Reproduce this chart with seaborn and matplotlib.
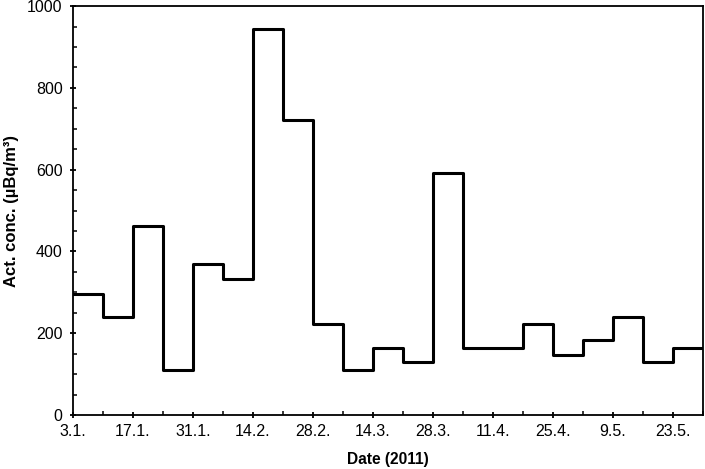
import matplotlib
matplotlib.use('Agg')
import matplotlib.pyplot as plt
import matplotlib.dates as mdates
from matplotlib.ticker import MultipleLocator, FixedLocator
import seaborn as sns
import pandas as pd

# weekly sampling periods (start dates) and activity concentration
week_start = ['2011-01-03', '2011-01-10', '2011-01-17', '2011-01-24', '2011-01-31',
              '2011-02-07', '2011-02-14', '2011-02-21', '2011-02-28', '2011-03-07',
              '2011-03-14', '2011-03-21', '2011-03-28', '2011-04-04', '2011-04-11',
              '2011-04-18', '2011-04-25', '2011-05-02', '2011-05-09', '2011-05-16',
              '2011-05-23']
act_conc = [296, 240, 462, 110, 370, 332, 944, 721, 222, 110,
            165, 129, 592, 165, 165, 222, 147, 184, 241, 129, 165]
period_end = '2011-05-30'

tick_dates = ['2011-01-03', '2011-01-17', '2011-01-31', '2011-02-14', '2011-02-28',
              '2011-03-14', '2011-03-28', '2011-04-11', '2011-04-25', '2011-05-09',
              '2011-05-23']
tick_labels = ['3.1.', '17.1.', '31.1.', '14.2.', '28.2.', '14.3.', '28.3.',
               '11.4.', '25.4.', '9.5.', '23.5.']

sns.set_theme(style='ticks')
plt.rcParams['font.family'] = ['Liberation Sans', 'DejaVu Sans']
plt.rcParams['text.color'] = 'black'
plt.rcParams['axes.labelcolor'] = 'black'

# close the last step at the end of the final week
df = pd.DataFrame({'date': pd.to_datetime(week_start + [period_end]),
                   'conc': act_conc + [act_conc[-1]]})

fig = plt.figure(figsize=(7.05, 4.69), dpi=100)
ax = fig.add_axes([0.1035, 0.115, 0.8935, 0.872])
sns.lineplot(data=df, x='date', y='conc', drawstyle='steps-post',
             color='black', linewidth=2.2, ax=ax)

ax.set_xlim(df['date'].iloc[0], df['date'].iloc[-1])
ax.set_ylim(0, 1000)

ax.xaxis.set_major_locator(FixedLocator(mdates.date2num(pd.to_datetime(tick_dates))))
ax.set_xticklabels(tick_labels)
# minor ticks on the week boundaries
ax.xaxis.set_minor_locator(FixedLocator(mdates.date2num(df['date'])))

ax.yaxis.set_major_locator(MultipleLocator(200))
ax.yaxis.set_minor_locator(MultipleLocator(50))

for s in ax.spines.values():
    s.set_visible(True)
    s.set_linewidth(1.3)
    s.set_color('black')

ax.tick_params(which='major', direction='inout', length=5, width=1.3,
               labelsize=11.5, colors='black')
ax.tick_params(which='minor', direction='in', length=3, width=1.1, colors='black')
ax.tick_params(axis='x', which='major', pad=4)
ax.tick_params(axis='y', which='major', pad=5)

ax.set_xlabel('Date (2011)', fontsize=11.2, fontweight='bold', labelpad=9, color='black')
ax.set_ylabel('Act. conc. (µBq/m³)', fontsize=12, fontweight='bold', labelpad=6, color='black')

fig.savefig('out.png', dpi=100)
